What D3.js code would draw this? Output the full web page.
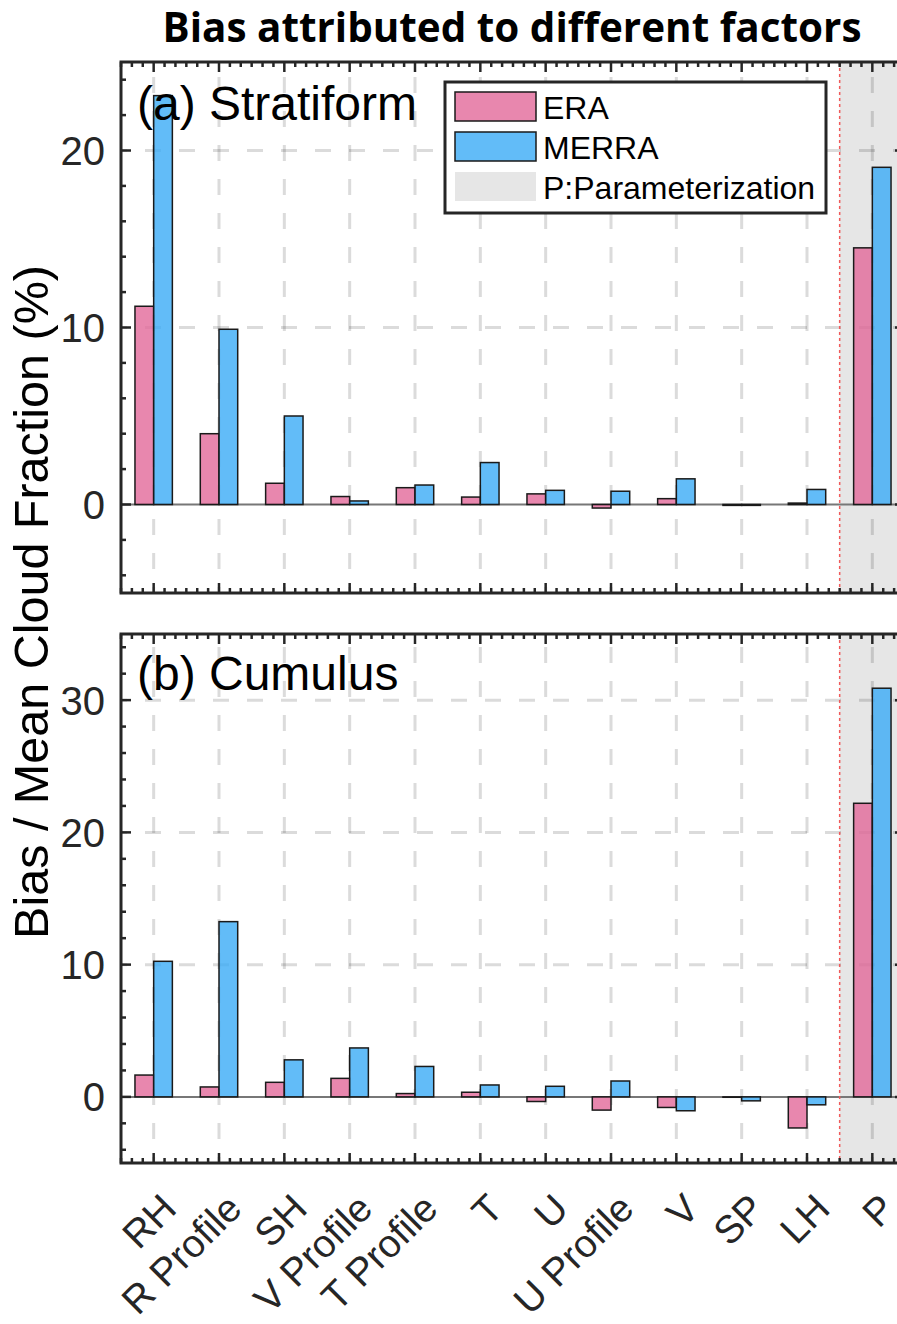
<!DOCTYPE html>
<html>
<head>
<meta charset="utf-8">
<script src="https://cdn.jsdelivr.net/npm/d3@7"></script>
<style>
  body { margin: 0; background: #fff; }
  svg { display: block; font-family: Arial, "Liberation Sans", Helvetica, sans-serif; }
</style>
</head>
<body>
<svg id="chart" width="897" height="1324"></svg>
<script>
// factors on the x axis (last one = parameterization)
var categories = ["RH", "R Profile", "SH", "V Profile", "T Profile", "T", "U", "U Profile", "V", "SP", "LH", "P"];
var series = ["ERA", "MERRA"];

// (a) stratiform, bias / mean cloud fraction (%)
var stratiformERA   = [11.2, 4.0, 1.2, 0.45, 0.95, 0.42, 0.6, -0.2, 0.33, -0.05, 0.08, 14.5];
var stratiformMERRA = [23.1, 9.9, 5.0, 0.2, 1.1, 2.37, 0.8, 0.75, 1.45, -0.05, 0.85, 19.05];

// (b) cumulus
var cumulusERA   = [1.65, 0.75, 1.1, 1.4, 0.25, 0.35, -0.35, -1.0, -0.8, -0.03, -2.35, 22.2];
var cumulusMERRA = [10.25, 13.25, 2.8, 3.7, 2.3, 0.9, 0.8, 1.2, -1.05, -0.3, -0.6, 30.9];

var stratiformTicks = [0, 10, 20];
var cumulusTicks = [0, 10, 20, 30];

var svg = d3.select("#chart");
var axisColor = "#262626";
var colours = { ERA: "#e2699a", MERRA: "#3babf6" };

var left = 121, right = 905;
var x = d3.scaleBand().domain(categories).range([left, right]);
var xs = d3.scaleBand().domain(series).range([-18.7, 18.7]);
var xl = d3.scaleLinear().domain([0.5, categories.length + 0.5]).range([left, right]);
var cx = d => x(d) + x.bandwidth() / 2;

function drawPanel(cfg) {
	var y = d3.scaleLinear().domain(cfg.domain).range([cfg.bottom, cfg.top]);
	var g = svg.append("g");

	// parameterization shading
	g.append("rect")
		.attr("x", x("P")).attr("y", cfg.top)
		.attr("width", right - x("P")).attr("height", cfg.bottom - cfg.top)
		.attr("fill", "#e6e6e6");

	// dashed grid
	var grid = g.append("g")
		.attr("stroke", "#000").attr("stroke-opacity", 0.14)
		.attr("stroke-width", 3).attr("stroke-dasharray", "16,18").attr("stroke-dashoffset", 10);
	grid.selectAll(".gx").data(categories).join("line")
		.attr("x1", cx).attr("x2", cx)
		.attr("y1", cfg.bottom).attr("y2", cfg.top);
	grid.selectAll(".gy").data(cfg.ticks.filter(t => t !== 0)).join("line")
		.attr("x1", left).attr("x2", right)
		.attr("y1", d => y(d)).attr("y2", d => y(d));

	// zero line
	g.append("line")
		.attr("x1", left).attr("x2", right)
		.attr("y1", y(0)).attr("y2", y(0))
		.attr("stroke", "#777").attr("stroke-width", 2);

	// red dotted separator
	g.append("line")
		.attr("x1", x("P")).attr("x2", x("P"))
		.attr("y1", cfg.top).attr("y2", cfg.bottom)
		.attr("stroke", "#f05a5a").attr("stroke-width", 1.5).attr("stroke-dasharray", "3,3");

	// bars
	var bars = [];
	categories.forEach((c, i) => {
		bars.push({ cat: c, key: "ERA", value: cfg.era[i] });
		bars.push({ cat: c, key: "MERRA", value: cfg.merra[i] });
	});
	g.append("g").selectAll("rect").data(bars).join("rect")
		.attr("x", d => cx(d.cat) + xs(d.key))
		.attr("width", xs.bandwidth())
		.attr("y", d => y(Math.max(0, d.value)))
		.attr("height", d => Math.abs(y(d.value) - y(0)))
		.attr("fill", d => colours[d.key])
		.attr("fill-opacity", 0.8)
		.attr("stroke", "#1a1a1a").attr("stroke-width", 1.5);

	// panel label
	g.append("text")
		.attr("x", 137).attr("y", cfg.top + cfg.labelDy)
		.attr("font-size", 48).attr("fill", "#000")
		.text(cfg.label);

	if (cfg.legend) drawLegend(g);

	// ticks (inward, like matlab)
	var ticks = g.append("g").attr("stroke", axisColor).attr("stroke-width", 2.5);
	var minorY = d3.range(cfg.domain[0] + 1, cfg.domain[1], 2).filter(v => cfg.ticks.indexOf(v) < 0);
	[[left, 1], [right, -1]].forEach(([xx, s]) => {
		ticks.append("g").selectAll("line").data(cfg.ticks).join("line")
			.attr("x1", xx).attr("x2", xx + s * 10)
			.attr("y1", d => y(d)).attr("y2", d => y(d));
		ticks.append("g").selectAll("line").data(minorY).join("line")
			.attr("x1", xx).attr("x2", xx + s * 5)
			.attr("y1", d => y(d)).attr("y2", d => y(d));
	});
	var minorX = d3.range(0, categories.length * 6 + 1).filter(i => (i - 3) % 6 !== 0).map(i => 0.5 + i / 6);
	[[cfg.top, 1], [cfg.bottom, -1]].forEach(([yy, s]) => {
		ticks.append("g").selectAll("line").data(categories).join("line")
			.attr("x1", cx).attr("x2", cx)
			.attr("y1", yy).attr("y2", yy + s * 10);
		ticks.append("g").selectAll("line").data(minorX).join("line")
			.attr("x1", d => xl(d)).attr("x2", d => xl(d))
			.attr("y1", yy).attr("y2", yy + s * 5);
	});

	// frame
	g.append("rect")
		.attr("x", left).attr("y", cfg.top)
		.attr("width", right - left).attr("height", cfg.bottom - cfg.top)
		.attr("fill", "none").attr("stroke", axisColor).attr("stroke-width", 3);

	// y tick labels
	g.append("g").selectAll("text").data(cfg.ticks).join("text")
		.attr("x", 105).attr("y", d => y(d)).attr("dy", "0.36em")
		.attr("text-anchor", "end").attr("font-size", 40).attr("fill", axisColor)
		.text(d => d);

	return y;
}

function drawLegend(g) {
	var lg = g.append("g");
	lg.append("rect")
		.attr("x", 445).attr("y", 82).attr("width", 381).attr("height", 131)
		.attr("fill", "#fff").attr("stroke", axisColor).attr("stroke-width", 3);
	var items = [
		{ name: "ERA", fill: colours.ERA, opacity: 0.8, stroke: "#1a1a1a" },
		{ name: "MERRA", fill: colours.MERRA, opacity: 0.8, stroke: "#1a1a1a" },
		{ name: "P:Parameterization", fill: "#e6e6e6", opacity: 1, stroke: "none" }
	];
	var row = lg.selectAll("g").data(items).join("g")
		.attr("transform", (d, i) => `translate(455,${92 + i * 40})`);
	row.append("rect")
		.attr("width", 81).attr("height", 29)
		.attr("fill", d => d.fill).attr("fill-opacity", d => d.opacity)
		.attr("stroke", d => d.stroke).attr("stroke-width", 1.5);
	row.append("text")
		.attr("x", 88).attr("y", 15).attr("dy", "0.36em")
		.attr("font-size", 32).attr("fill", "#000")
		.text(d => d.name);
}

drawPanel({ top: 62, bottom: 593, domain: [-5, 25], ticks: stratiformTicks,
	era: stratiformERA, merra: stratiformMERRA, label: "(a) Stratiform", labelDy: 58, legend: true });
drawPanel({ top: 634, bottom: 1163, domain: [-5, 35], ticks: cumulusTicks,
	era: cumulusERA, merra: cumulusMERRA, label: "(b) Cumulus", labelDy: 56, legend: false });

// rotated category labels
svg.append("g").selectAll("text").data(categories).join("text")
	.attr("transform", d => `translate(${cx(d)},1186) rotate(-45)`)
	.attr("dy", "0.9em")
	.attr("text-anchor", "end").attr("font-size", 39).attr("fill", axisColor)
	.text(d => d);

// shared y label
svg.append("text")
	.attr("transform", "translate(48,602) rotate(-90)")
	.attr("text-anchor", "middle").attr("font-size", 48.5).attr("fill", "#000")
	.text("Bias / Mean Cloud Fraction (%)");

// title
svg.append("text")
	.attr("x", 512).attr("y", 42)
	.attr("text-anchor", "middle")
	.attr("font-family", "'Open Sans', 'DejaVu Sans Condensed', sans-serif")
	.attr("font-weight", "bold").attr("font-size", 41).attr("fill", "#000")
	.attr("textLength", 699).attr("lengthAdjust", "spacingAndGlyphs")
	.text("Bias attributed to different factors");
</script>
</body>
</html>
